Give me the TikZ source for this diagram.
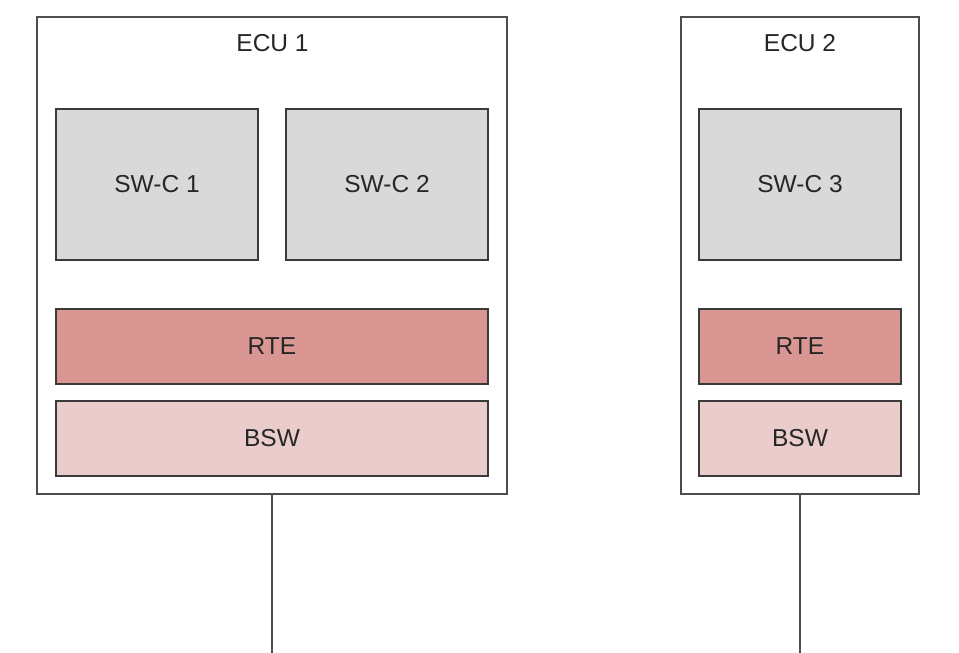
\documentclass[tikz,border=0pt]{standalone}
\usepackage{fontspec}
\setmainfont{Liberation Sans}
\definecolor{swcfill}{HTML}{D9D9D9}
\definecolor{rtefill}{HTML}{DA9692}
\definecolor{bswfill}{HTML}{EACCCB}
\definecolor{edge}{HTML}{3A3A3A}
\definecolor{ecuedge}{HTML}{4D4D4D}
\tikzset{
  px/.style={x=1pt,y=-1pt},
  ecubox/.style={draw=ecuedge, line width=1.8pt, fill=white, inner sep=0pt},
  layer/.style={draw=edge, line width=1.6pt, inner sep=0pt, font=\fontsize{24.5}{28}\selectfont, text=black!85},
  swc/.style={layer, fill=swcfill},
  rte/.style={layer, fill=rtefill},
  bsw/.style={layer, fill=bswfill},
  title/.style={inner sep=0pt, font=\fontsize{24.5}{28}\selectfont, text=black!85},
  bus/.style={draw=ecuedge, line width=1.8pt}
}
\begin{document}
\begin{tikzpicture}[px]
\useasboundingbox (0,0) rectangle (959,653);
% ECU frames
\node[ecubox, minimum width=470pt, minimum height=477pt] (ecu1) at (272,255.5) {};
\node[ecubox, minimum width=238pt, minimum height=477pt] (ecu2) at (800,255.5) {};
\node[title] (ecu1t) at (272.5,43) {ECU 1};
\node[title] (ecu2t) at (800,43) {ECU 2};
% ECU 1 contents
\node[swc, minimum width=202pt, minimum height=151pt] (swc1) at (157,184.5) {SW-C 1};
\node[swc, minimum width=202pt, minimum height=151pt] (swc2) at (387,184.5) {SW-C 2};
\node[rte, minimum width=432pt, minimum height=75pt] (rte1) at (272,346.5) {RTE};
\node[bsw, minimum width=432pt, minimum height=75pt] (bsw1) at (272,438.5) {BSW};
% ECU 2 contents
\node[swc, minimum width=202pt, minimum height=151pt] (swc3) at (800,184.5) {SW-C 3};
\node[rte, minimum width=202pt, minimum height=75pt] (rte2) at (800,346.5) {RTE};
\node[bsw, minimum width=202pt, minimum height=75pt] (bsw2) at (800,438.5) {BSW};
% bus stubs
\coordinate (bus1) at (272,653);
\coordinate (bus2) at (800,653);
\draw[bus] (ecu1.south) -- (bus1);
\draw[bus] (ecu2.south) -- (bus2);
\end{tikzpicture}
\end{document}
